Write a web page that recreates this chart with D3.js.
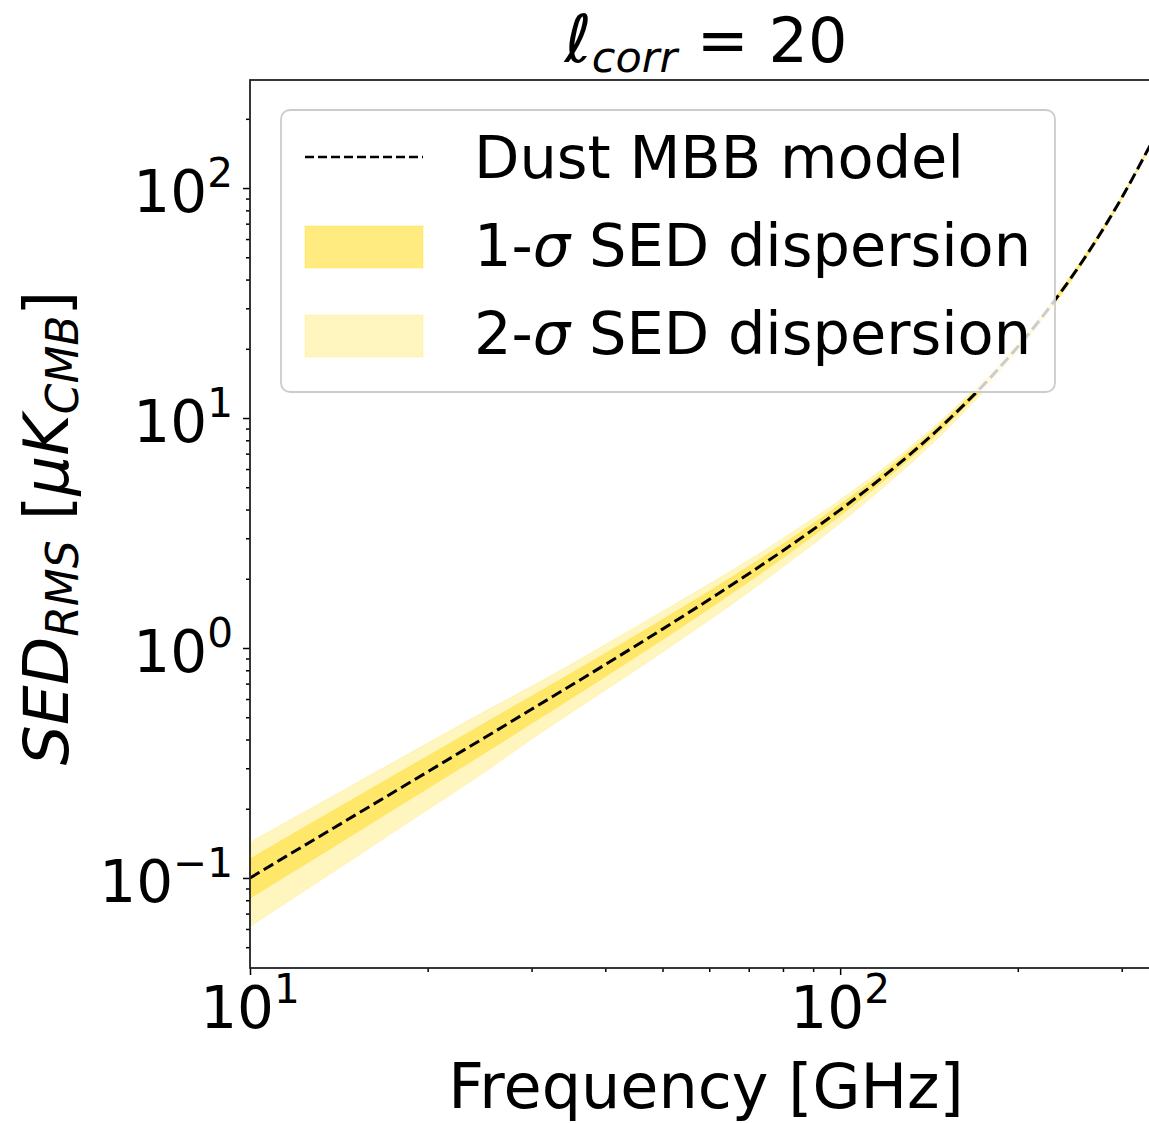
<!DOCTYPE html>
<html><head><meta charset="utf-8">
<script src="https://cdn.jsdelivr.net/npm/d3@7"></script>
<style>
body{margin:0;background:#fff}
text{font-family:"DejaVu Sans",sans-serif;fill:#000}
</style>
</head><body>
<svg id="c" width="1149" height="1123"></svg>
<script>
// ---- data ----
const freqs  = [10, 12, 15, 20, 25, 30, 40, 50, 60, 70, 80, 100, 120, 150, 180, 220, 250, 280, 300, 335];
const model  = [0.1, 0.1323, 0.1862, 0.2895, 0.4082, 0.5412, 0.8474, 1.208, 1.625, 2.103, 2.650, 3.987, 5.730, 9.424, 15.05, 27.53, 43.06, 67.3, 90.7, 153.0];
const sig1Hi = [0.1211, 0.1591, 0.2218, 0.3394, 0.4719, 0.6185, 0.9486, 1.3306, 1.7695, 2.2689, 2.8331, 4.2135, 5.9861, 9.7548, 15.47, 28.11, 43.76, 68.24, 91.75, 154.4];
const sig1Lo = [0.0817, 0.1088, 0.1549, 0.2447, 0.3498, 0.4692, 0.7500, 1.0866, 1.4820, 1.9402, 2.4674, 3.7641, 5.4722, 9.0829, 14.61, 26.90, 42.27, 66.38, 89.67, 151.6];
const sig2Hi = [0.1429, 0.1860, 0.2558, 0.3861, 0.5307, 0.6813, 1.0354, 1.4456, 1.9004, 2.4146, 3.0009, 4.4120, 6.2251, 10.052, 15.83, 28.56, 44.37, 68.87, 92.39, 155.1];
const sig2Lo = [0.0614, 0.0835, 0.1216, 0.1980, 0.2890, 0.4012, 0.6548, 0.9595, 1.3208, 1.7493, 2.2504, 3.4886, 5.1421, 8.6739, 14.11, 26.29, 41.50, 65.46, 88.63, 150.6];

const xMajor = [10, 100];
const xMajorLabels = [["10","1"], ["10","2"]];
const xMinor = [20,30,40,50,60,70,80,90,200,300];
const yMajor = [0.1, 1, 10, 100];
const yMajorLabels = [["10","\u22121"], ["10","0"], ["10","1"], ["10","2"]];
const yMinor = [0.05,0.06,0.07,0.08,0.09,0.2,0.3,0.4,0.5,0.6,0.7,0.8,0.9,2,3,4,5,6,7,8,9,20,30,40,50,60,70,80,90,200];
const legendLabels = ["Dust MBB model", "1-\u03C3 SED dispersion", "2-\u03C3 SED dispersion"];

// ---- layout ----
const L = 250, T = 80, R = 1150, B = 968;
const svg = d3.select("#c");
const x = d3.scaleLog().domain([10, 335]).range([L, R]);
const y = d3.scaleLog().domain([0.0406, 295]).range([B, T]);

const gold = "#FFD700";
const rows = freqs.map((f,i)=>({f, m:model[i], a1:sig1Lo[i], b1:sig1Hi[i], a2:sig2Lo[i], b2:sig2Hi[i]}));

svg.append("defs").append("clipPath").attr("id","clip")
  .append("rect").attr("x",L).attr("y",T).attr("width",R-L).attr("height",B-T);
const plot = svg.append("g").attr("clip-path","url(#clip)");

const curve = d3.curveMonotoneX;
plot.append("path").datum(rows)
  .attr("d", d3.area().x(d=>x(d.f)).y0(d=>y(d.a2)).y1(d=>y(d.b2)).curve(curve))
  .attr("fill", gold).attr("fill-opacity",0.25)
  .attr("stroke", gold).attr("stroke-opacity",0.15).attr("stroke-width",1);
plot.append("path").datum(rows)
  .attr("d", d3.area().x(d=>x(d.f)).y0(d=>y(d.a1)).y1(d=>y(d.b1)).curve(curve))
  .attr("fill", gold).attr("fill-opacity",0.45)
  .attr("stroke", gold).attr("stroke-opacity",0.2).attr("stroke-width",1);
plot.append("path").datum(rows)
  .attr("d", d3.line().x(d=>x(d.f)).y(d=>y(d.m)).curve(curve))
  .attr("fill","none").attr("stroke","#000").attr("stroke-width",3)
  .attr("stroke-dasharray","11,5");

// ---- axes ----
const axStyle = g => { g.select(".domain").remove(); g.selectAll("line").attr("stroke","#000").attr("stroke-width",1.5); g.selectAll("text").remove(); };
svg.append("g").attr("transform",`translate(0,${B})`)
  .call(d3.axisBottom(x).tickValues(xMajor).tickSize(7).tickFormat("")).call(axStyle);
svg.append("g").attr("transform",`translate(0,${B})`)
  .call(d3.axisBottom(x).tickValues(xMinor).tickSize(4).tickFormat("")).call(axStyle);
svg.append("g").attr("transform",`translate(${L},0)`)
  .call(d3.axisLeft(y).tickValues(yMajor).tickSize(7).tickFormat("")).call(axStyle);
svg.append("g").attr("transform",`translate(${L},0)`)
  .call(d3.axisLeft(y).tickValues(yMinor.filter(v=>v>0.0406)).tickSize(4).tickFormat("")).call(axStyle);

// spines
svg.append("rect").attr("x",L).attr("y",T).attr("width",R-L).attr("height",B-T)
  .attr("fill","none").attr("stroke","#222").attr("stroke-width",1.8);

// tick labels
const tickFs = 58;
function powLabel(g, base, exp, xx, yy, anchor){
  const t = g.append("text").attr("x",xx).attr("y",yy).attr("text-anchor",anchor).attr("font-size",tickFs);
  t.append("tspan").text(base);
  t.append("tspan").attr("font-size",tickFs*0.7).attr("dy",-25).text(exp);
}
xMajor.forEach((v,i)=>powLabel(svg, xMajorLabels[i][0], xMajorLabels[i][1], x(v), 1028, "middle"));
yMajor.forEach((v,i)=>powLabel(svg, yMajorLabels[i][0], yMajorLabels[i][1], 233, y(v)+24, "end"));

// axis labels
svg.append("text").attr("x",(L+R)/2+6).attr("y",1108).attr("text-anchor","middle")
  .attr("font-size",62).text("Frequency [GHz]");

const yl = svg.append("text").attr("transform",`translate(68,${(T+B)/2+4}) rotate(-90)`)
  .attr("text-anchor","middle").attr("font-size",63);
yl.append("tspan").attr("font-style","italic").text("SED");
yl.append("tspan").attr("font-style","italic").attr("font-size",44).attr("dy",10).text("RMS");
yl.append("tspan").attr("dy",-10).text(" [");
yl.append("tspan").attr("font-style","italic").text("\u03BCK");
yl.append("tspan").attr("font-style","italic").attr("font-size",44).attr("dy",10).text("CMB");
yl.append("tspan").attr("dy",-10).text("]");

// title
const tt = svg.append("text").attr("x",(L+R)/2+6).attr("y",62).attr("text-anchor","middle").attr("font-size",62);
tt.append("tspan").attr("font-style","italic").attr("font-size",66).text("\u2113");
tt.append("tspan").attr("font-style","italic").attr("font-size",43).attr("dy",10).text("corr");
tt.append("tspan").attr("dy",-10).text(" = 20");

// ---- legend ----
const lg = svg.append("g");
lg.append("rect").attr("x",281).attr("y",110).attr("width",774).attr("height",282).attr("rx",9)
  .attr("fill","#fff").attr("fill-opacity",0.8).attr("stroke","#cccccc").attr("stroke-width",1.8);
lg.append("line").attr("x1",305).attr("x2",423).attr("y1",157).attr("y2",157)
  .attr("stroke","#000").attr("stroke-width",2.5).attr("stroke-dasharray","9,4");
lg.append("rect").attr("x",305).attr("y",226).attr("width",118).attr("height",42)
  .attr("fill",gold).attr("fill-opacity",0.5).attr("stroke",gold).attr("stroke-opacity",0.3);
lg.append("rect").attr("x",305).attr("y",315).attr("width",118).attr("height",42)
  .attr("fill",gold).attr("fill-opacity",0.25).attr("stroke",gold).attr("stroke-opacity",0.15);
const ly = [178, 266, 354];
legendLabels.forEach((s,i)=>{
  const t = lg.append("text").attr("x",474).attr("y",ly[i]).attr("font-size",59);
  if(i===0){ t.text(s); }
  else {
    const parts = s.split("\u03C3");
    t.append("tspan").text(parts[0]);
    t.append("tspan").attr("font-style","italic").text("\u03C3");
    t.append("tspan").text(parts[1]);
  }
});
</script>
</body></html>
